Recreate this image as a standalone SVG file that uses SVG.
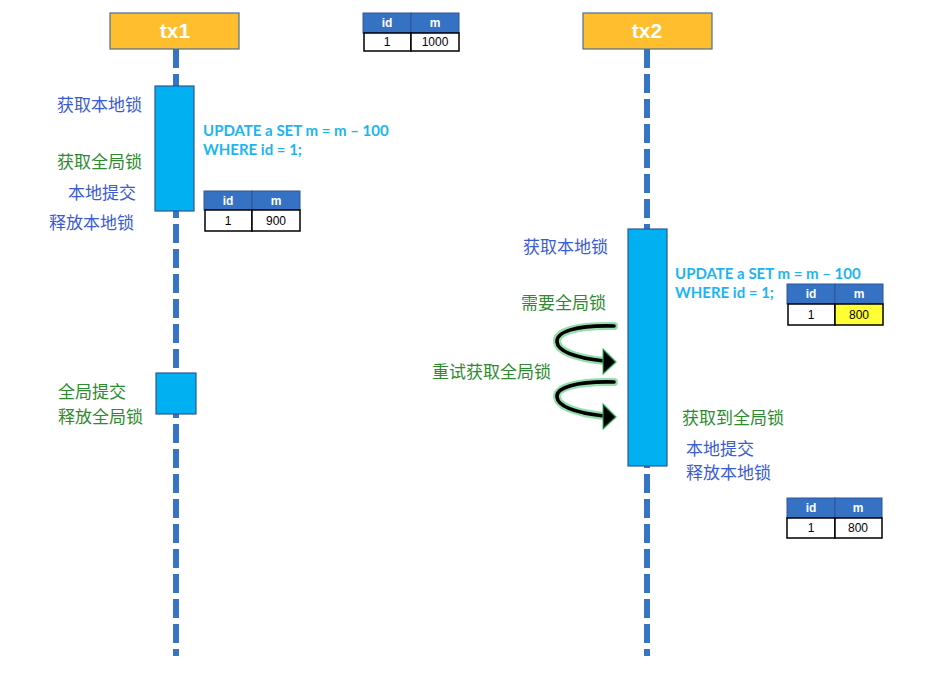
<svg xmlns="http://www.w3.org/2000/svg" width="925" height="688" viewBox="0 0 925 688">
<style>
.hdr{fill:#FFBE2E;stroke:#4A6E9A;stroke-width:1.2}
.hdrt{font-family:"Liberation Sans",Arial,sans-serif;font-weight:bold;font-size:21px;fill:#ffffff;text-anchor:middle}
.lane{stroke:#3674C6;stroke-width:6;stroke-dasharray:19 6;fill:none}
.act{fill:#00B0F0;stroke:#2F5597;stroke-width:1.2}
.cn{font-family:"Noto Sans CJK SC","Noto Sans",sans-serif;font-size:17px}
.blue{fill:#3A5BD2}
.green{fill:#2F8A2F}
.sql{font-family:Lato,"Liberation Sans",sans-serif;font-weight:bold;font-size:15px;fill:#1CB4F2}
.th{fill:#3572C4;stroke:#2F5597;stroke-width:1}
.td{fill:#ffffff;stroke:#000000;stroke-width:1.5}
.tdy{fill:#FFFF33;stroke:#000000;stroke-width:1.5}
.tht{font-family:"Liberation Sans",Arial,sans-serif;font-weight:bold;font-size:12px;fill:#ffffff;text-anchor:middle}
.tdt{font-family:"Liberation Sans",Arial,sans-serif;font-size:12px;fill:#000000;text-anchor:middle}
.glow{fill:none;stroke:#2DBE5A;stroke-width:8;stroke-opacity:0.5;stroke-linecap:round}
.curve{fill:none;stroke:#000000;stroke-width:3.6;stroke-linecap:round}
.head{fill:#000000;stroke:#2DBE5A;stroke-width:2;stroke-opacity:0.5;stroke-linejoin:round}
</style>

<g id="connectors">
  <line class="lane" x1="176" y1="49" x2="176" y2="656"/>
  <line class="lane" x1="647" y1="49" x2="647" y2="656"/>
  <g id="retry1">
    <path class="glow" d="M614 326 C 575 325, 556 332, 557 342 C 558 352, 578 358, 604 361"/>
    <path class="curve" d="M614 326 C 575 325, 556 332, 557 342 C 558 352, 578 358, 604 361"/>
    <polygon class="head" points="603,349 616,362 603,374"/>
  </g>
  <g id="retry2">
    <path class="glow" d="M614 382 C 575 381, 556 388, 557 397 C 558 407, 578 413, 604 416"/>
    <path class="curve" d="M614 382 C 575 381, 556 388, 557 397 C 558 407, 578 413, 604 416"/>
    <polygon class="head" points="603,404 616,417 603,429"/>
  </g>
</g>

<g id="tx1">
  <rect class="hdr" x="110" y="13" width="129" height="36"/>
  <text class="hdrt" x="175" y="38">tx1</text>
</g>
<g id="tx2">
  <rect class="hdr" x="583" y="13" width="129" height="36"/>
  <text class="hdrt" x="647" y="38">tx2</text>
</g>

<g id="tx1-act1">
  <rect class="act" x="155" y="86" width="39" height="125"/>
</g>
<g id="tx1-act2">
  <rect class="act" x="156" y="373" width="40" height="41"/>
</g>
<g id="tx2-act">
  <rect class="act" x="628" y="229" width="39" height="237"/>
</g>

<g id="table-initial">
  <rect class="th" x="363" y="13" width="48" height="20"/>
  <rect class="th" x="411" y="13" width="48" height="20"/>
  <rect class="td" x="364" y="33" width="47" height="18"/>
  <rect class="td" x="411" y="33" width="48" height="18"/>
  <text class="tht" x="387" y="27">id</text>
  <text class="tht" x="435" y="27">m</text>
  <text class="tdt" x="387" y="46">1</text>
  <text class="tdt" x="435" y="46">1000</text>
</g>

<g id="table-tx1">
  <rect class="th" x="204" y="191" width="48" height="19"/>
  <rect class="th" x="252" y="191" width="48" height="19"/>
  <rect class="td" x="205" y="210" width="47" height="21"/>
  <rect class="td" x="252" y="210" width="48" height="21"/>
  <text class="tht" x="228" y="205">id</text>
  <text class="tht" x="276" y="205">m</text>
  <text class="tdt" x="228" y="225">1</text>
  <text class="tdt" x="276" y="225">900</text>
</g>

<g id="table-tx2">
  <rect class="th" x="787" y="284" width="48" height="20"/>
  <rect class="th" x="835" y="284" width="48" height="20"/>
  <rect class="td" x="788" y="304" width="47" height="21"/>
  <rect class="tdy" x="835" y="304" width="48" height="21"/>
  <text class="tht" x="811" y="298">id</text>
  <text class="tht" x="859" y="298">m</text>
  <text class="tdt" x="811" y="319">1</text>
  <text class="tdt" x="859" y="319">800</text>
</g>

<g id="table-final">
  <rect class="th" x="787" y="498" width="48" height="20"/>
  <rect class="th" x="835" y="498" width="47" height="20"/>
  <rect class="td" x="787" y="518" width="48" height="20"/>
  <rect class="td" x="835" y="518" width="47" height="20"/>
  <text class="tht" x="811" y="512">id</text>
  <text class="tht" x="858" y="512">m</text>
  <text class="tdt" x="811" y="532">1</text>
  <text class="tdt" x="858" y="532">800</text>
</g>

<g id="tx1-labels">
  <text class="cn blue" x="57" y="111">获取本地锁</text>
  <text class="cn green" x="57" y="168">获取全局锁</text>
  <text class="cn blue" x="68" y="199">本地提交</text>
  <text class="cn blue" x="49" y="229">释放本地锁</text>
  <text class="sql" x="203" y="136">UPDATE a SET m = m – 100</text>
  <text class="sql" x="203" y="155">WHERE id = 1;</text>
  <text class="cn green" x="58" y="398">全局提交</text>
  <text class="cn green" x="58" y="423">释放全局锁</text>
</g>

<g id="tx2-labels">
  <text class="cn blue" x="523" y="253">获取本地锁</text>
  <text class="sql" x="675" y="279">UPDATE a SET m = m – 100</text>
  <text class="sql" x="675" y="298">WHERE id = 1;</text>
  <text class="cn green" x="521" y="309">需要全局锁</text>
  <text class="cn green" x="432" y="378">重试获取全局锁</text>
  <text class="cn green" x="682" y="424">获取到全局锁</text>
  <text class="cn blue" x="686" y="455">本地提交</text>
  <text class="cn blue" x="686" y="479">释放本地锁</text>
</g>
</svg>
